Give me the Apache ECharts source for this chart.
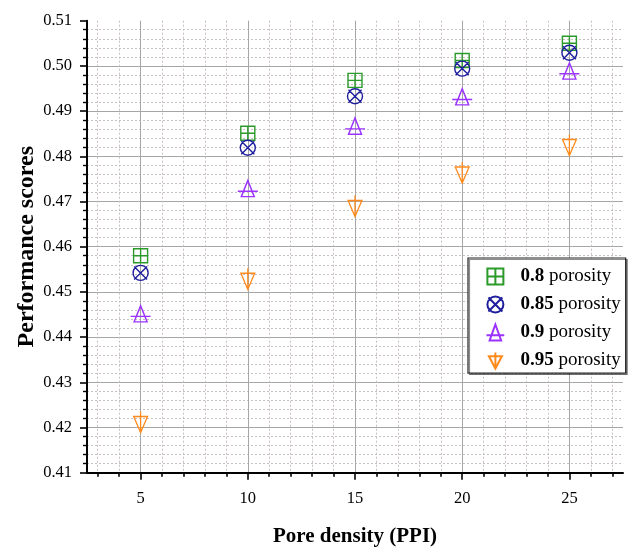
<!DOCTYPE html>
<html>
<head>
<meta charset="utf-8">
<script src="https://cdn.jsdelivr.net/npm/echarts@6/dist/echarts.min.js"></script>
<style>
  html, body { margin: 0; padding: 0; background: #ffffff; }
  #chart { width: 632px; height: 552px; }
</style>
</head>
<body>
<div id="chart"></div>
<script>
// Pore density (PPI) on the x axis
const ppi = [5, 10, 15, 20, 25];

// Performance scores for each porosity
const score080 = [0.4580, 0.4851, 0.4968, 0.5012, 0.5050];
const score085 = [0.4542, 0.4819, 0.4933, 0.4994, 0.5029];
const score090 = [0.4445, 0.4722, 0.4860, 0.4925, 0.4982];
const score095 = [0.4212, 0.4529, 0.4690, 0.4764, 0.4825];

const seriesNames = ['0.8 porosity', '0.85 porosity', '0.9 porosity', '0.95 porosity'];

// Tick positions
const xMajorTicks = [5, 10, 15, 20, 25];
const xMinorTicks = [3, 4, 6, 7, 8, 9, 11, 12, 13, 14, 16, 17, 18, 19, 21, 22, 23, 24, 26, 27];

const SERIF = '"Liberation Serif", "Times New Roman", serif';
const gridMajor = '#a6a6a6';
const gridMinor = '#c6c0c0';

// Outline marker shapes
const symSquarePlus = 'path://M0,0 L14,0 L14,14 L0,14 Z M7,0 L7,14 M0,7 L14,7';
const symCircleX = 'path://M0,7.5 A7.5,7.5 0 1,1 15,7.5 A7.5,7.5 0 1,1 0,7.5 Z M1,1 L14,14 M14,1 L1,14';
const symTriUp = 'path://M10,0 L16.5,18 L3.5,18 Z M0,12 L20,12';
const symTriDown = 'path://M0,5 L17,5 L8.5,21 Z M8.5,0 L8.5,21';

function pairs(ys) {
  return ppi.map((x, i) => [x, ys[i]]);
}

function scatter(name, ys, symbol, size, offset, color) {
  return {
    name: name,
    type: 'scatter',
    xAxisIndex: 0,
    yAxisIndex: 0,
    data: pairs(ys),
    symbol: symbol,
    symbolSize: size,
    symbolOffset: offset,
    symbolKeepAspect: true,
    itemStyle: { color: 'none', borderColor: color, borderWidth: 1.4, opacity: 1 },
    emphasis: { disabled: true },
    z: 5
  };
}

const chart = echarts.init(document.getElementById('chart'), null, { renderer: 'canvas' });

chart.setOption({
  animation: false,
  backgroundColor: '#ffffff',
  grid: { left: 87, right: 9, top: 20.7, bottom: 79.3 },
  xAxis: [
    {
      type: 'value',
      min: 2.5,
      max: 27.5,
      position: 'bottom',
      name: 'Pore density (PPI)',
      nameLocation: 'middle',
      nameGap: 53,
      nameMoveOverlap: false,
      nameTextStyle: { fontFamily: SERIF, fontWeight: 'bold', fontSize: 21, color: '#000' },
      axisLine: { show: true, lineStyle: { color: '#000', width: 2 } },
      axisTick: { show: true, customValues: xMajorTicks, length: 7, inside: false, lineStyle: { color: '#000', width: 1.6 } },
      axisLabel: { customValues: xMajorTicks, margin: 17, fontFamily: SERIF, fontSize: 16.5, color: '#000' },
      splitLine: { show: true, lineStyle: { color: gridMajor, width: 1, type: 'solid' } },
      minorTick: { show: false }
    },
    {
      type: 'value',
      min: 2.5,
      max: 27.5,
      position: 'bottom',
      axisLine: { show: false },
      axisTick: { show: true, customValues: xMinorTicks, length: 4, inside: false, lineStyle: { color: '#000', width: 1.6 } },
      axisLabel: { show: false },
      splitLine: { show: true, lineStyle: { color: gridMinor, width: 1, type: [2, 2] } },
      minorTick: { show: false }
    }
  ],
  yAxis: {
    type: 'value',
    min: 0.41,
    max: 0.51,
    interval: 0.01,
    name: 'Performance scores',
    nameLocation: 'middle',
    nameGap: 48,
    nameMoveOverlap: false,
    nameTextStyle: { fontFamily: SERIF, fontWeight: 'bold', fontSize: 24, color: '#000' },
    axisLine: { show: true, lineStyle: { color: '#000', width: 2 } },
    axisTick: { show: true, length: 7, inside: false, lineStyle: { color: '#000', width: 1.6 } },
    minorTick: { show: true, splitNumber: 5, length: 4, lineStyle: { color: '#000', width: 1.4 } },
    axisLabel: {
      margin: 15,
      fontFamily: SERIF,
      fontSize: 16.5,
      color: '#000',
      formatter: v => v.toFixed(2)
    },
    splitLine: { show: true, showMaxLine: false, lineStyle: { color: gridMajor, width: 1, type: 'solid' } },
    minorSplitLine: { show: true, lineStyle: { color: gridMinor, width: 1, type: [2, 2] } }
  },
  legend: {
    orient: 'vertical',
    left: 468,
    top: 258,
    padding: [8, 5, 2, 16],
    itemGap: 7,
    itemWidth: 40,
    itemHeight: 16,
    backgroundColor: '#ffffff',
    borderColor: '#222',
    borderWidth: 1.2,
    borderRadius: 0,
    shadowColor: 'rgba(0,0,0,0.45)',
    shadowOffsetX: 1.5,
    shadowOffsetY: 1.5,
    shadowBlur: 0,
    data: seriesNames,
    formatter: function (name) {
      const parts = name.split(' ');
      return '{b|' + parts[0] + '}{n| ' + parts.slice(1).join(' ') + '}';
    },
    textStyle: {
      rich: {
        b: { fontFamily: SERIF, fontWeight: 'bold', fontSize: 19, color: '#000', lineHeight: 18 },
        n: { fontFamily: SERIF, fontSize: 19, color: '#000', lineHeight: 18 }
      }
    }
  },
  series: [
    scatter(seriesNames[0], score080, symSquarePlus, [14, 14], [0, 0], '#2a9a2a'),
    scatter(seriesNames[1], score085, symCircleX, [15, 15], [0, 0], '#1f1f9e'),
    scatter(seriesNames[2], score090, symTriUp, [20, 18], [0, -3], '#9b33ff'),
    scatter(seriesNames[3], score095, symTriDown, [17, 21], [0, 0], '#ff8a1c')
  ]
});
</script>
</body>
</html>
